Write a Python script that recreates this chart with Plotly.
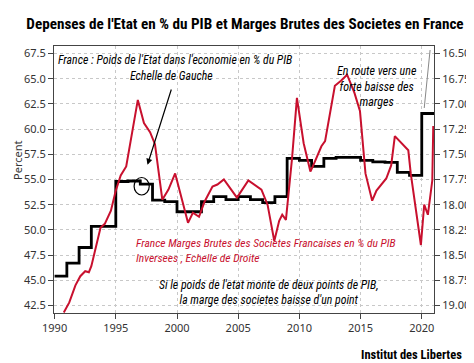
import plotly.graph_objects as go

# ---- data ----
gov_years = list(range(1990, 2022))
gov_spending = [45.4, 46.7, 48.25, 50.35, 50.35, 54.8, 54.85, 54.55, 52.95, 52.8,
                51.8, 51.8, 52.8, 53.3, 53.0, 53.3, 53.0, 52.7, 53.3, 57.1,
                56.9, 56.3, 57.1, 57.2, 57.2, 56.9, 56.75, 56.7, 55.7, 55.4,
                61.55, 61.55]

margin_x = [1990.75, 1991.2, 1991.7, 1992.1, 1992.5, 1992.8, 1993.0, 1993.4, 1993.75, 1994.1,
            1994.6, 1995.0, 1995.4, 1995.85, 1996.8, 1997.3, 1997.8, 1998.2, 1998.5, 1998.8,
            1999.3, 1999.85, 2000.9, 2001.3, 2001.8, 2002.25, 2002.9, 2003.3, 2003.83, 2004.9,
            2005.83, 2006.5, 2006.9, 2007.4, 2007.95, 2008.35, 2008.6, 2008.9, 2009.4, 2009.8,
            2010.35, 2010.9, 2011.1, 2011.8, 2012.1, 2012.9, 2013.4, 2013.9, 2014.5, 2014.95,
            2015.4, 2015.95, 2016.3, 2017.1, 2017.5, 2017.8, 2018.9, 2019.1, 2019.3, 2019.93,
            2020.2, 2020.5, 2020.86, 2020.94]
margin_vals = [19.07, 18.97, 18.80, 18.71, 18.66, 18.67, 18.61, 18.39, 18.23, 18.19,
               18.06, 17.86, 17.71, 17.62, 16.96, 17.19, 17.28, 17.40, 17.69, 17.95,
               17.85, 17.69, 18.18, 18.08, 18.12, 17.97, 17.82, 17.80, 17.75, 17.93,
               17.76, 17.82, 17.85, 18.00, 18.36, 18.16, 18.10, 18.15, 17.54, 16.94,
               17.39, 17.67, 17.62, 17.42, 17.37, 16.82, 16.77, 16.71, 16.89, 17.07,
               17.69, 17.96, 17.86, 17.74, 17.61, 17.32, 17.46, 17.69, 17.86, 18.40,
               18.00, 18.10, 17.76, 17.22]

x_ticks = [1990, 1995, 2000, 2005, 2010, 2015, 2020]
left_ticks = [42.5, 45.0, 47.5, 50.0, 52.5, 55.0, 57.5, 60.0, 62.5, 65.0, 67.5]
right_ticks = [16.5, 16.75, 17.0, 17.25, 17.5, 17.75, 18.0, 18.25, 18.5, 18.75, 19.0]

title_text = "Depenses de l'Etat en % du PIB et Marges Brutes des Societes en France"
note_top = "France : Poids de l'Etat dans l'economie en % du PIB"
note_left = "Echelle de Gauche"
note_route = "En route vers une<br>forte baisse des<br>marges"
note_red = "France Marges Brutes des Societes Francaises en % du PIB<br>Inversees , Echelle de Droite"
note_rule = "Si le poids de l'etat monte de deux points de PIB,<br>la marge des societes baisse d'un point"
source = "Institut des Libertes"

# ---- layout geometry (pixels) ----
W, H = 474, 363
L, R, T, B = 46, 39, 38, 58
PW, PH = W - L - R, H - T - B

def px(x):
    return (x - L) / PW

def py(y):
    return (H - B - y) / PH

RED = "#C8102E"
NARROW = "Liberation Sans Narrow, Roboto Condensed, Arial Narrow, sans-serif"
TICKF = dict(family="Noto Sans, Open Sans, sans-serif", size=11, color="#333333")

fig = go.Figure()
fig.add_trace(go.Scatter(x=gov_years, y=gov_spending, mode="lines",
                         line=dict(color="black", width=2.8, shape="hv"),
                         showlegend=False, yaxis="y"))
fig.add_trace(go.Scatter(x=margin_x, y=margin_vals, mode="lines",
                         line=dict(color=RED, width=2),
                         showlegend=False, yaxis="y2"))

ann = []
ann.append(dict(text=note_top, x=px(48), y=py(52), xanchor="left", yanchor="middle",
                font=dict(family=NARROW, size=11.8, color="black", style="italic")))
ann.append(dict(text=note_left, x=px(166), y=py(68), xanchor="center", yanchor="middle",
                font=dict(family=NARROW, size=11.8, color="black", style="italic")))
ann.append(dict(text=note_route, x=px(377), y=py(78.5), xanchor="center", yanchor="middle",
                font=dict(family=NARROW, size=12, color="black", style="italic")))
ann.append(dict(text=note_red, x=px(128), y=py(242.5), xanchor="left", yanchor="middle",
                align="left",
                font=dict(family=NARROW, size=11.5, color=RED, style="italic")))
ann.append(dict(text=note_rule, x=px(266), y=py(284), xanchor="center", yanchor="middle",
                font=dict(family=NARROW, size=11.8, color="black", style="italic")))
ann.append(dict(text="<b>" + source + "</b>", x=px(466), y=py(346), xanchor="right",
                yanchor="middle",
                font=dict(family=NARROW, size=12.5, color="black")))
ann.append(dict(text="Percent", x=px(8), y=py(152), xanchor="center", yanchor="middle",
                textangle=-90, font=dict(family="Noto Sans, Open Sans, sans-serif", size=11,
                                         color="#333333")))
ann.append(dict(text="", x=px(141.7), y=py(156.7), showarrow=True, arrowhead=2,
                arrowsize=1, arrowwidth=1.2, arrowcolor="black",
                ax=166 - 141.7, ay=80 - 156.7))
for a in ann:
    a.setdefault("showarrow", False)
    a["xref"] = "paper"
    a["yref"] = "paper"

shapes = [
    dict(type="circle", xref="paper", yref="paper", x0=px(128), x1=px(143.5),
         y0=py(187), y1=py(169.5), line=dict(color="black", width=1.2)),
    dict(type="line", xref="paper", yref="paper", x0=px(425), x1=px(431),
         y0=py(100), y1=py(42), line=dict(color="#888888", width=1)),
]

fig.update_layout(
    width=W, height=H,
    margin=dict(l=L, r=R, t=T, b=B),
    paper_bgcolor="white", plot_bgcolor="white",
    title=dict(text="<b>" + title_text + "</b>", x=0.5, xref="container", xanchor="center",
               y=1 - 16 / H, yref="container", yanchor="middle",
               font=dict(family=NARROW, size=15.2, color="black")),
    annotations=ann, shapes=shapes,
    xaxis=dict(range=[1989.95, 2021], tickvals=x_ticks, ticks="outside", ticklen=5,
               tickcolor="#444444", showline=True, linecolor="#444444", linewidth=1,
               mirror=True, showgrid=True, gridcolor="#c8c8c8", griddash="dot",
               gridwidth=1, zeroline=False, tickfont=TICKF),
    yaxis=dict(range=[41.75, 68.25], tickvals=left_ticks, tickformat=".1f",
               ticks="outside", ticklen=5, tickcolor="#444444", showline=True,
               linecolor="#444444", linewidth=1, mirror=True, showgrid=True,
               gridcolor="#c8c8c8", griddash="dot", gridwidth=1, zeroline=False,
               tickfont=TICKF),
    yaxis2=dict(range=[19.075, 16.425], tickvals=right_ticks, tickformat=".2f",
                overlaying="y", side="right", ticks="outside", ticklen=5,
                tickcolor="#444444", showline=True, linecolor="#444444",
                showgrid=False, zeroline=False, tickfont=TICKF),
)

fig.write_html("out.html")
